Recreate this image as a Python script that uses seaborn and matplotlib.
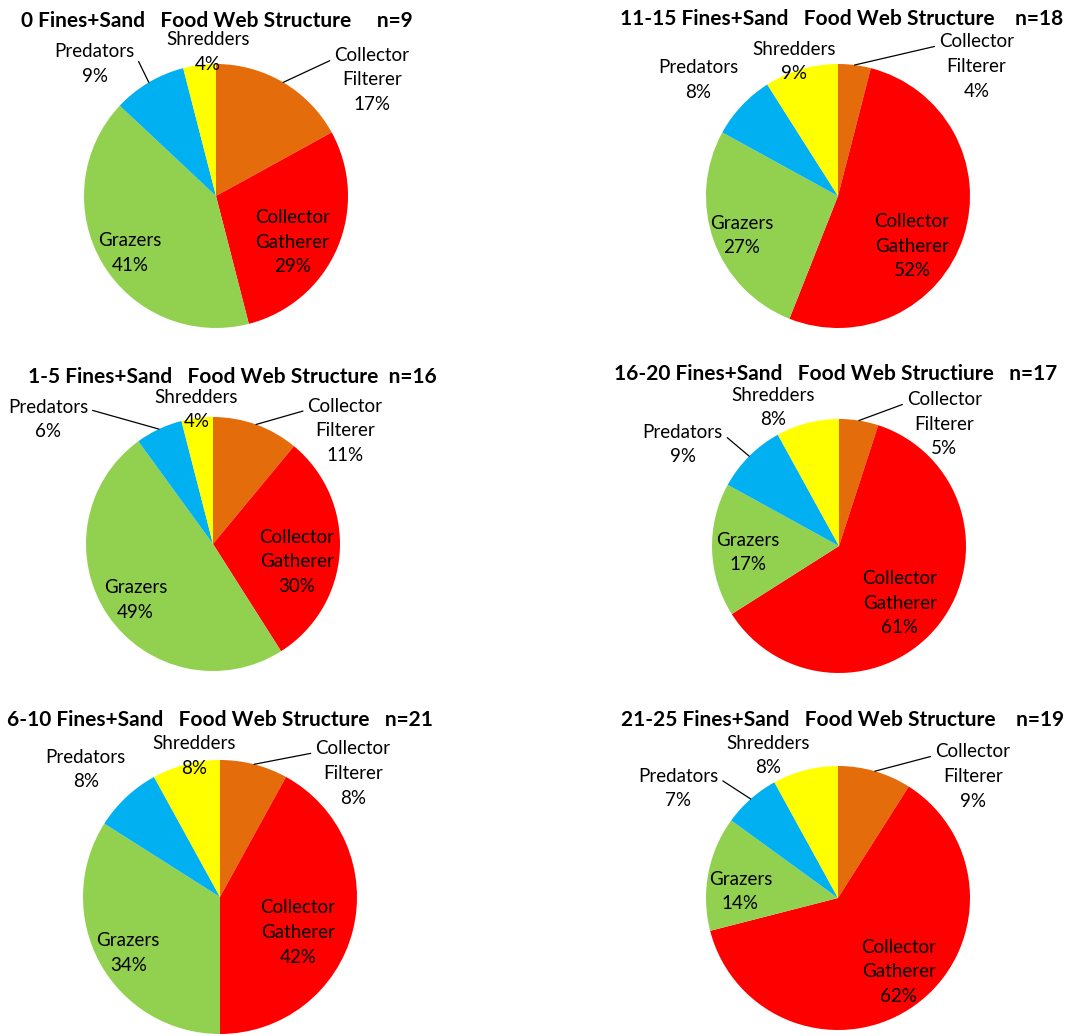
import numpy as np
import matplotlib
matplotlib.use("Agg")
import matplotlib.pyplot as plt
import seaborn as sns

# Feeding groups (clockwise from 12 o'clock)
groups = ["Collector\nFilterer", "Collector\nGatherer", "Grazers", "Predators", "Shredders"]
group_colors = ["#E46C0A", "#FF0000", "#92D050", "#00B0F0", "#FFFF00"]

# Percent composition per fines+sand class
pct_0 = [17, 29, 41, 9, 4]
pct_1_5 = [11, 30, 49, 6, 4]
pct_6_10 = [8, 42, 34, 8, 8]
pct_11_15 = [4, 52, 27, 8, 9]
pct_16_20 = [5, 61, 17, 9, 8]
pct_21_25 = [9, 62, 14, 7, 8]

titles = [
    "0 Fines+Sand   Food Web Structure     n=9",
    "11-15 Fines+Sand   Food Web Structure    n=18",
    "1-5 Fines+Sand   Food Web Structure  n=16",
    "16-20 Fines+Sand   Food Web Structiure   n=17",
    "6-10 Fines+Sand   Food Web Structure   n=21",
    "21-25 Fines+Sand   Food Web Structure    n=19",
]
series = [pct_0, pct_11_15, pct_1_5, pct_16_20, pct_6_10, pct_21_25]

W, H = 1069, 1036
sns.set_theme(style="white")
plt.rcParams["font.family"] = ["Lato", "DejaVu Sans"]
palette = sns.color_palette(group_colors)

# layout: pie center (px), radius (px), title center (px)
layout = [
    dict(c=(216, 196), r=132, t=(217, 21)),
    dict(c=(838, 196), r=132, t=(842, 19)),
    dict(c=(213, 544), r=127, t=(232, 377)),
    dict(c=(839, 546), r=127, t=(836, 374)),
    dict(c=(220, 897), r=137, t=(220, 720)),
    dict(c=(838, 898), r=132, t=(843, 720)),
]

# label placement in pie-radius units, and whether a leader line is drawn
label_pos = [
    [(1.18, 0.88, True), (0.58, -0.35, False), (-0.65, -0.43, False), (-0.92, 1.00, True), (-0.06, 1.09, False)],
    [(1.05, 0.98, True), (0.56, -0.38, False), (-0.73, -0.30, False), (-1.06, 0.88, False), (-0.33, 1.02, False)],
    [(1.04, 0.89, True), (0.66, -0.14, False), (-0.61, -0.44, False), (-1.30, 0.98, True), (-0.13, 1.06, False)],
    [(0.83, 0.96, True), (0.48, -0.45, False), (-0.72, -0.05, False), (-1.23, 0.80, True), (-0.52, 1.09, False)],
    [(0.97, 0.90, True), (0.57, -0.26, False), (-0.67, -0.41, False), (-0.98, 0.93, False), (-0.19, 1.03, False)],
    [(1.02, 0.92, True), (0.46, -0.56, False), (-0.74, 0.05, False), (-1.21, 0.83, True), (-0.53, 1.08, False)],
]

LABEL_SIZE = 13.5
LINE_SP = 1.55

fig = plt.figure(figsize=(W / 100, H / 100), dpi=100)
fig.patch.set_facecolor("white")

for vals, title, lay, lpos in zip(series, titles, layout, label_pos):
    cx, cy = lay["c"]
    r = lay["r"]
    ax = fig.add_axes([(cx - r) / W, (H - cy - r) / H, 2 * r / W, 2 * r / H])
    ax.pie(vals, colors=palette, startangle=90, counterclock=False, radius=1,
           wedgeprops=dict(linewidth=0))
    ax.set_xlim(-1, 1)
    ax.set_ylim(-1, 1)
    ax.set_aspect("equal")
    ax.axis("off")

    total = float(sum(vals))
    cum = np.concatenate([[0], np.cumsum(vals)[:-1]])
    for name, v, c0, (dx, dy, leader) in zip(groups, vals, cum, lpos):
        txt = f"{name}\n{v}%"
        if leader:
            ang = np.deg2rad(90 - 360 * (c0 + v / 2) / total)
            edge = (np.cos(ang), np.sin(ang))
            rel = (0.0, 0.82) if dx > 0 else (1.0, 0.75)
            ax.annotate(txt, xy=edge, xytext=(dx, dy), textcoords="data",
                        ha="center", va="center", fontsize=LABEL_SIZE,
                        linespacing=LINE_SP, color="black",
                        arrowprops=dict(arrowstyle="-", color="black", lw=0.9,
                                        relpos=rel, shrinkA=1, shrinkB=0))
        else:
            ax.text(dx, dy, txt, ha="center", va="center", fontsize=LABEL_SIZE,
                    linespacing=LINE_SP, color="black")

    tx, ty = lay["t"]
    fig.text(tx / W, 1 - ty / H, title, ha="center", va="center",
             fontsize=15, fontweight="bold", color="black")

fig.savefig("out.png", dpi=100, facecolor="white")
